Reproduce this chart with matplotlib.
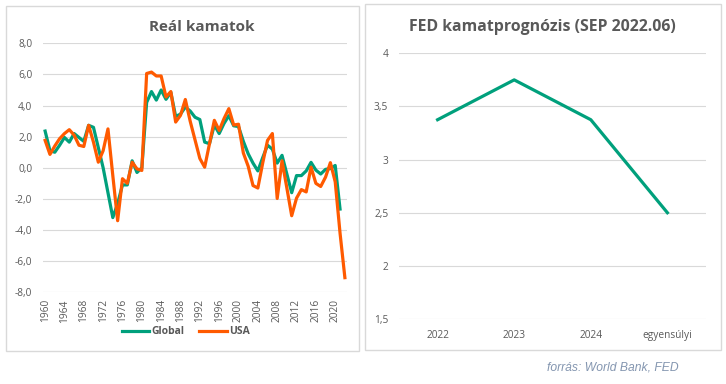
import numpy as np
import matplotlib
matplotlib.use('Agg')
import matplotlib.pyplot as plt
from matplotlib.patches import Rectangle

plt.rcParams['font.family'] = ['Open Sans', 'DejaVu Sans']

# Real interest rates, 1960-2022
years = list(range(1960, 2023))
global_rate = [2.36, 1.1, 1.0, 1.45, 1.95, 1.65, 2.2, 1.95, 1.7, 2.73,
               2.6, 1.3, 0.0, -1.6, -3.2, -2.3, -1.1, -1.1, 0.45, -0.3,
               0.0, 4.2, 4.9, 4.35, 5.0, 4.4, 4.85, 3.3, 3.45, 3.9,
               3.65, 3.25, 3.1, 1.65, 1.55, 2.75, 2.2, 2.85, 3.35, 2.7,
               2.65, 1.7, 0.9, 0.3, -0.2, 0.65, 1.45, 1.2, 0.3, 0.8,
               -0.4, -1.6, -0.5, -0.5, -0.2, 0.35, -0.15, -0.4, -0.1, -0.05,
               0.15, -2.65, np.nan]
usa_rate = [1.76, 0.86, 1.4, 1.87, 2.2, 2.45, 2.1, 1.45, 1.37, 2.73,
            1.65, 0.36, 1.1, 2.5, -0.5, -3.4, -0.7, -1.0, 0.36, -0.07,
            -0.17, 6.06, 6.15, 5.9, 5.9, 4.55, 4.9, 2.94, 3.37, 4.39,
            3.0, 1.8, 0.6, 0.04, 1.55, 3.05, 2.4, 3.16, 3.8, 2.75,
            2.8, 0.95, 0.1, -1.14, -1.3, 0.3, 1.76, 2.2, -1.97, 0.45,
            -1.3, -3.08, -1.95, -1.4, -1.55, 0.04, -1.0, -1.2, -0.6, 0.33,
            -0.9, -4.2, -7.06]
y_ticks_left = [-8, -6, -4, -2, 0, 2, 4, 6, 8]
y_labels_left = ['-8,0', '-6,0', '-4,0', '-2,0', '0,0', '2,0', '4,0', '6,0', '8,0']

# FED projection (SEP 2022.06)
fed_cats = ['2022', '2023', '2024', 'egyensúlyi']
fed_vals = [3.375, 3.75, 3.375, 2.5]
y_ticks_right = [1.5, 2, 2.5, 3, 3.5, 4]
y_labels_right = ['1,5', '2', '2,5', '3', '3,5', '4']

green = '#00A07C'
orange = '#FF5A00'
grid_c = '#D9D9D9'
text_c = '#595959'

fig = plt.figure(figsize=(7.26, 3.84), dpi=100)

# panel frames
fig.patches.append(Rectangle((6 / 726, 1 - 351 / 384), 353 / 726, 345 / 384,
                             transform=fig.transFigure, fill=False,
                             edgecolor=grid_c, linewidth=1))
fig.patches.append(Rectangle((365 / 726, 1 - 350 / 384), 356 / 726, 346 / 384,
                             transform=fig.transFigure, fill=False,
                             edgecolor=grid_c, linewidth=1))

# left chart
ax1 = fig.add_axes([42.7 / 726, 1 - 292.3 / 384, 304.6 / 726, 249 / 384])
x = np.arange(len(years))
ax1.plot(x, global_rate, color=green, lw=2.3, label='Global', solid_joinstyle='round')
ax1.plot(x, usa_rate, color=orange, lw=2.3, label='USA', solid_joinstyle='round')
ax1.set_xlim(-0.5, len(years) - 0.5)
ax1.set_ylim(-8, 8)
ax1.set_yticks(y_ticks_left)
ax1.set_yticklabels(y_labels_left)
ax1.set_xticks(x[::4])
ax1.set_xticklabels([str(y) for y in years[::4]], rotation=90)
ax1.grid(axis='y', color=grid_c, lw=0.8)
ax1.set_axisbelow(True)
for s in ax1.spines.values():
    s.set_visible(False)
ax1.tick_params(length=0, colors=text_c, labelsize=7.3)
ax1.tick_params(axis='y', pad=7.5)
ax1.tick_params(axis='x', pad=5)
ax1.legend(loc='center', bbox_to_anchor=(186 / 726, 1 - 331.7 / 384),
           bbox_transform=fig.transFigure, ncol=2, frameon=False,
           handlelength=2.6, handletextpad=0.3, columnspacing=1.4,
           prop={'size': 7.5, 'weight': 'bold'}, labelcolor=text_c)

# right chart
ax2 = fig.add_axes([399.3 / 726, 1 - 319 / 384, 306.4 / 726, 265.7 / 384])
ax2.plot(range(len(fed_cats)), fed_vals, color=green, lw=2.3)
ax2.set_xlim(-0.5, len(fed_cats) - 0.5)
ax2.set_ylim(1.5, 4)
ax2.set_yticks(y_ticks_right)
ax2.set_yticklabels(y_labels_right)
ax2.set_xticks(range(len(fed_cats)))
ax2.set_xticklabels(fed_cats)
ax2.grid(axis='y', color=grid_c, lw=0.8)
ax2.set_axisbelow(True)
for s in ax2.spines.values():
    s.set_visible(False)
ax2.tick_params(length=0, colors=text_c, labelsize=7.3)
ax2.tick_params(axis='y', pad=8)
ax2.tick_params(axis='x', pad=8)

# titles
fig.text(202 / 726, 1 - 27 / 384, 'Reál kamatok', fontsize=11,
         fontweight='bold', color=text_c, ha='center', va='center')
fig.text(542.5 / 726, 1 - 27 / 384, 'FED kamatprognózis (SEP 2022.06)',
         fontsize=11.4, fontweight='bold', color=text_c, ha='center', va='center')

fig.text(546.7 / 726, 1 - 367.7 / 384, 'forrás: World Bank, FED', fontsize=8.7,
         style='italic', color='#8496B0', ha='left', va='center',
         family='Liberation Sans')

fig.savefig('out.png', dpi=100)
